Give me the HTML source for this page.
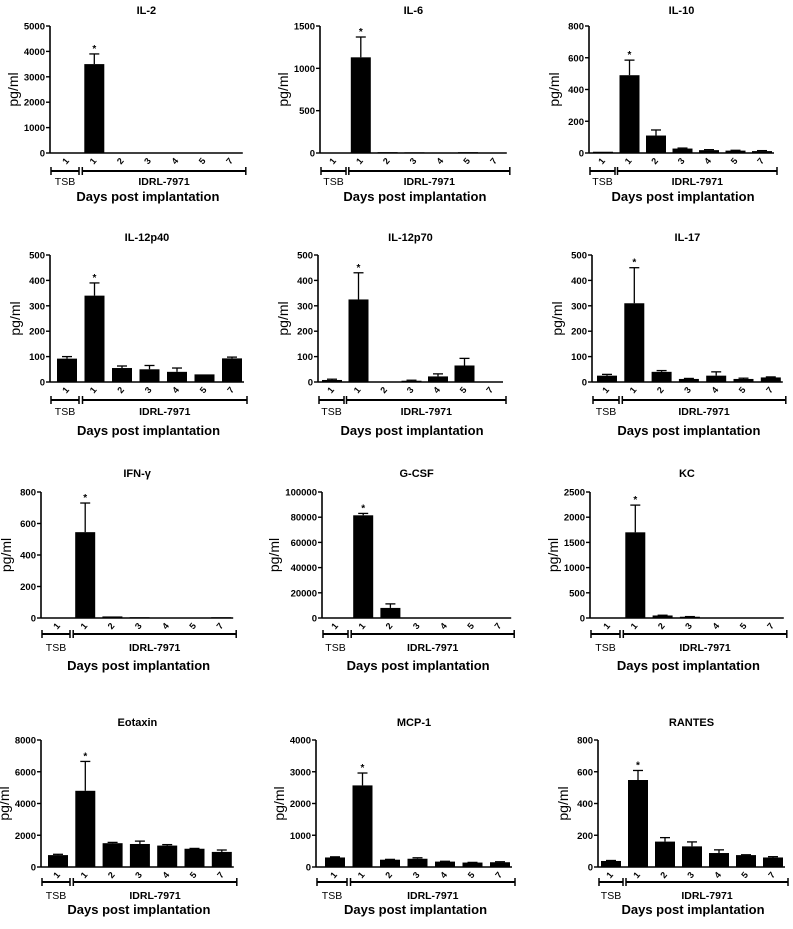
<!DOCTYPE html>
<html><head><meta charset="utf-8"><style>
html,body{margin:0;padding:0;background:#fff;}
svg text{font-family:"Liberation Sans",Arial,sans-serif;}
</style></head><body>
<svg id="fig" width="793" height="924" viewBox="0 0 793 924" xmlns="http://www.w3.org/2000/svg"></svg>
<script>
const categories = ["1","1","2","3","4","5","7"];
const titles = ["IL-2","IL-6","IL-10","IL-12p40","IL-12p70","IL-17","IFN-\u03b3","G-CSF","KC","Eotaxin","MCP-1","RANTES"];
const yMaxes = [5000,1500,800,500,500,500,800,100000,2500,8000,4000,800];
const yStepsArr = [1000,500,200,100,100,100,200,20000,500,2000,1000,200];
const valIL2 = [0,3500,0,0,0,0,0];
const errIL2 = [0,400,0,0,0,0,0];
const valIL6 = [2,1130,10,8,6,10,3];
const errIL6 = [0,240,0,0,0,0,0];
const valIL10 = [8,490,110,28,18,15,12];
const errIL10 = [0,95,35,3,3,2,3];
const valIL12p40 = [92,340,55,50,40,30,93];
const errIL12p40 = [8,50,8,15,15,0,5];
const valIL12p70 = [8,325,0,5,22,65,0];
const errIL12p70 = [3,105,0,2,10,28,0];
const valIL17 = [25,310,40,12,25,12,18];
const errIL17 = [5,140,5,2,15,3,2];
const valIFN = [3,545,10,5,3,3,5];
const errIFN = [0,185,0,0,0,0,0];
const valGCSF = [0,81500,8000,0,0,0,0];
const errGCSF = [0,1500,3200,0,0,0,0];
const valKC = [0,1700,50,25,8,10,3];
const errKC = [0,540,5,3,0,0,0];
const valEotaxin = [750,4800,1500,1450,1350,1150,950];
const errEotaxin = [50,1850,50,180,60,20,120];
const valMCP1 = [300,2570,230,260,170,140,150];
const errMCP1 = [20,390,10,30,10,5,15];
const valRANTES = [38,548,160,130,88,75,60];
const errRANTES = [3,60,25,28,20,2,5];
const starIdx = 1;

const allVals = [valIL2,valIL6,valIL10,valIL12p40,valIL12p70,valIL17,valIFN,valGCSF,valKC,valEotaxin,valMCP1,valRANTES];
const allErrs = [errIL2,errIL6,errIL10,errIL12p40,errIL12p70,errIL17,errIFN,errGCSF,errKC,errEotaxin,errMCP1,errRANTES];

const layout = [
 [50,67,27.3],[320,334,26.8],[589,603,26.5],
 [50,67,27.5],[318,332,26.5],[592,607,27.3],
 [41,58,27.2],[322,336,27.2],[590,608,27.3],
 [41,58,27.3],[316,335,27.5],[598,611,27.0]
];
const rows = [
 {title:10,top:26,zero:153,br:171,grp:185,days:201},
 {title:237,top:255,zero:382,br:400,grp:415,days:435},
 {title:473,top:492,zero:618,br:634,grp:651,days:670},
 {title:722,top:740,zero:867,br:882,grp:899,days:914}
];
const NS="http://www.w3.org/2000/svg";
const svg=document.getElementById('fig');
function mk(tag,attrs,parent){const e=document.createElementNS(NS,tag);for(const k in attrs)e.setAttribute(k,attrs[k]);(parent||svg).appendChild(e);return e;}

for(let p=0;p<12;p++){
  const r=rows[Math.floor(p/3)];
  const [ax,x0,sp]=layout[p];
  const g=mk('g',{});
  
  
  const yMax=yMaxes[p], step=yStepsArr[p];
  const y=v=>r.zero-(v/yMax)*(r.zero-r.top);
  const x=i=>x0+i*sp;
  const xEnd=x0+6*sp+12;
  const t=mk('text',{x:(ax+xEnd)/2,y:r.title+4,'text-anchor':'middle','font-size':'11','font-weight':'bold'},g);
  t.textContent=titles[p];
  
  
  const ya=mk('line',{x1:ax,y1:r.top,x2:ax,y2:r.zero,stroke:'#000','stroke-width':'1.6'},g);
  
  
  for(let v=0;v<=yMax+1e-9;v+=step){
    mk('line',{x1:ax-4,y1:y(v),x2:ax,y2:y(v),stroke:'#000','stroke-width':'1.4'},g);
    const tl=mk('text',{x:ax-5,y:y(v)+3.5,'text-anchor':'end','font-size':'9.5','font-weight':'bold'},g);
    tl.textContent=String(v);
    
    
  }
  const yl=mk('text',{x:0,y:0,'text-anchor':'middle','font-size':'14',transform:`translate(${ax-Math.max(String(yMax).length*5.5+10,30)},${(r.top+r.zero)/2}) rotate(-90)`},g);
  yl.textContent='pg/ml';
  
  
  const vals=allVals[p], errs=allErrs[p];
  for(let i=0;i<vals.length;i++){
    const bx=x(i)-10, by=y(vals[i]);
    const b=mk('rect',{x:bx,y:by,width:20,height:Math.max(r.zero-by,0),fill:'#000'},g);
    
    
    if(errs[i]>0){
      const ey=y(vals[i]+errs[i]);
      mk('line',{x1:x(i),y1:by,x2:x(i),y2:ey,stroke:'#000','stroke-width':'1.3'},g);
      mk('line',{x1:x(i)-5,y1:ey,x2:x(i)+5,y2:ey,stroke:'#000','stroke-width':'1.3'},g);
    }
    if(i===starIdx){
      const st=mk('text',{x:x(i),y:y(vals[i]+errs[i])-2,'text-anchor':'middle','font-size':'10','font-weight':'bold'},g);
      st.textContent='*';
      
      
    }
    const cl=mk('text',{x:0,y:0,'text-anchor':'middle','font-size':'9','font-weight':'bold',transform:`translate(${x(i)+1},${r.zero+10}) rotate(-50)`},g);
    cl.textContent=categories[i];
    
    
  }
  const xa=mk('line',{x1:ax,y1:r.zero,x2:xEnd,y2:r.zero,stroke:'#000','stroke-width':'1.6'},g);
  
  
  const b1a=ax+1,b1b=x0+12,b2a=x0+sp-12,b2b=x0+6*sp+15;
  [[b1a,b1b],[b2a,b2b]].forEach(([a,b])=>{
    mk('line',{x1:a,y1:r.br,x2:b,y2:r.br,stroke:'#000','stroke-width':'2'},g);
    mk('line',{x1:a,y1:r.br-4,x2:a,y2:r.br+4,stroke:'#000','stroke-width':'1.5'},g);
    mk('line',{x1:b,y1:r.br-4,x2:b,y2:r.br+4,stroke:'#000','stroke-width':'1.5'},g);
  });
  const tsb=mk('text',{x:(b1a+b1b)/2,y:r.grp,'text-anchor':'middle','font-size':'10.5'},g);
  tsb.textContent='TSB';
  
  
  const idr=mk('text',{x:(b2a+b2b)/2,y:r.grp,'text-anchor':'middle','font-size':'10.5','font-weight':'bold'},g);
  idr.textContent='IDRL-7971';
  
  
  const dl=mk('text',{x:(ax+b2b)/2,y:r.days,'text-anchor':'middle','font-size':'13','font-weight':'bold'},g);
  dl.textContent='Days post implantation';
  
  
}
</script>
</body></html>
